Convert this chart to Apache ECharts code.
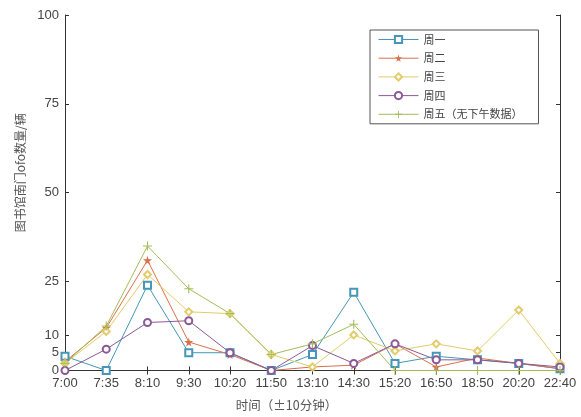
<!DOCTYPE html>
<html>
<head>
<meta charset="utf-8">
<script src="https://cdn.jsdelivr.net/npm/echarts@6/dist/echarts.min.js"></script>
<style>html,body{margin:0;padding:0;background:#fff;}#c{width:581px;height:417px;}</style>
</head>
<body>
<div id="c"></div>
<script>
var categories = ['7:00','7:35','8:10','9:30','10:20','11:50','13:10','14:30','15:20','16:50','18:50','20:20','22:40'];
var yTicks = [0, 5, 10, 25, 50, 75, 100];
var seriesNames = ['周一','周二','周三','周四','周五（无下午数据）'];
var mon = [4, 0, 24, 5, 5, 0, 4.5, 22, 2, 4, 3, 2, 0.5];
var tue = [2.5, 12, 31, 8, 4.5, 0, 1, 1.5, 7.5, 1, 3.5, 2, 0.5];
var wed = [2, 11, 27, 16.5, 16, 4.5, 1, 10, 5.5, 7.5, 5.5, 17, 2];
var thu = [0, 6, 13.5, 14, 5, 0, 7, 2, 7.5, 3, 3, 2, 1];
var fri = [2, 12.5, 35, 23, 16, 4.5, 7.5, 13, 0, 0, 0, 0, 0];

var colors = ['#4596b8', '#d9704a', '#e2cc6a', '#8a5a96', '#a3bd58'];
var starPath = 'path://M50,0L61,35L98,35L68,57L79,91L50,70L21,91L32,57L2,35L39,35Z';
var plusPath = 'path://M44,0H56V44H100V56H56V100H44V56H0V44H44Z';
var symbols = ['emptyRect', starPath, 'emptyDiamond', 'emptyCircle', plusPath];
var datas = [mon, tue, wed, thu, fri];

var series = datas.map(function (d, i) {
  return {
    name: seriesNames[i],
    type: 'line',
    data: d,
    symbol: symbols[i],
    symbolSize: i === 4 ? 9 : (i === 1 ? 9 : 7),
    showSymbol: true,
    color: colors[i],
    lineStyle: { width: 1, color: colors[i] },
    itemStyle: { color: colors[i], borderWidth: 1 },
    emphasis: { disabled: true },
    animation: false
  };
});

var chart = echarts.init(document.getElementById('c'), null, { renderer: 'canvas' });
var tickFont = { fontFamily: 'Liberation Sans, Arial, sans-serif', fontSize: 13, color: '#444' };
chart.setOption({
  backgroundColor: '#fff',
  animation: false,
  grid: { left: 65, right: 21, top: 15, bottom: 46 },
  legend: {
    orient: 'vertical',
    left: 370,
    top: 30,
    data: seriesNames,
    itemWidth: 40,
    itemHeight: 9,
    itemGap: 7.7,
    padding: [4, 16, 4, 8],
    borderColor: '#555',
    borderWidth: 1,
    backgroundColor: '#fff',
    lineStyle: { width: 1 },
    textStyle: { fontFamily: 'Noto Sans CJK SC, sans-serif', fontSize: 11, color: '#444' }
  },
  xAxis: [{
    type: 'category',
    data: categories,
    boundaryGap: false,
    position: 'bottom',
    name: '时间（±10分钟）',
    nameLocation: 'middle',
    nameGap: 29,
    nameTextStyle: { fontFamily: 'Noto Sans CJK SC, sans-serif', fontSize: 12.5, color: '#555', padding: [0, 52, 0, 0] },
    axisLine: { lineStyle: { color: '#333', width: 1 } },
    axisTick: { inside: true, length: 4, lineStyle: { color: '#333' } },
    axisLabel: Object.assign({ margin: 6, interval: 0 }, tickFont),
    splitLine: { show: false }
  }, {
    type: 'category',
    data: categories,
    boundaryGap: false,
    position: 'top',
    axisLine: { lineStyle: { color: '#333', width: 1 } },
    axisTick: { inside: true, length: 4, lineStyle: { color: '#333' } },
    axisLabel: { show: false },
    splitLine: { show: false }
  }],
  yAxis: [{
    type: 'value',
    min: 0,
    max: 100,
    position: 'left',
    name: '图书馆南门ofo数量/辆',
    nameLocation: 'middle',
    nameGap: 37,
    nameRotate: 90,
    nameTextStyle: { fontFamily: 'Noto Sans CJK SC, sans-serif', fontSize: 12, color: '#555', padding: [0, 0, 0, 40] },
    axisLine: { show: true, lineStyle: { color: '#333', width: 1 } },
    axisTick: { show: true, inside: true, length: 4, customValues: yTicks, lineStyle: { color: '#333' } },
    axisLabel: Object.assign({ margin: 6, customValues: yTicks }, tickFont),
    splitLine: { show: false }
  }, {
    type: 'value',
    min: 0,
    max: 100,
    position: 'right',
    axisLine: { show: true, lineStyle: { color: '#333', width: 1 } },
    axisTick: { show: true, inside: true, length: 4, customValues: yTicks, lineStyle: { color: '#333' } },
    axisLabel: { show: false, customValues: yTicks },
    splitLine: { show: false }
  }],
  series: series
});
</script>
</body>
</html>
